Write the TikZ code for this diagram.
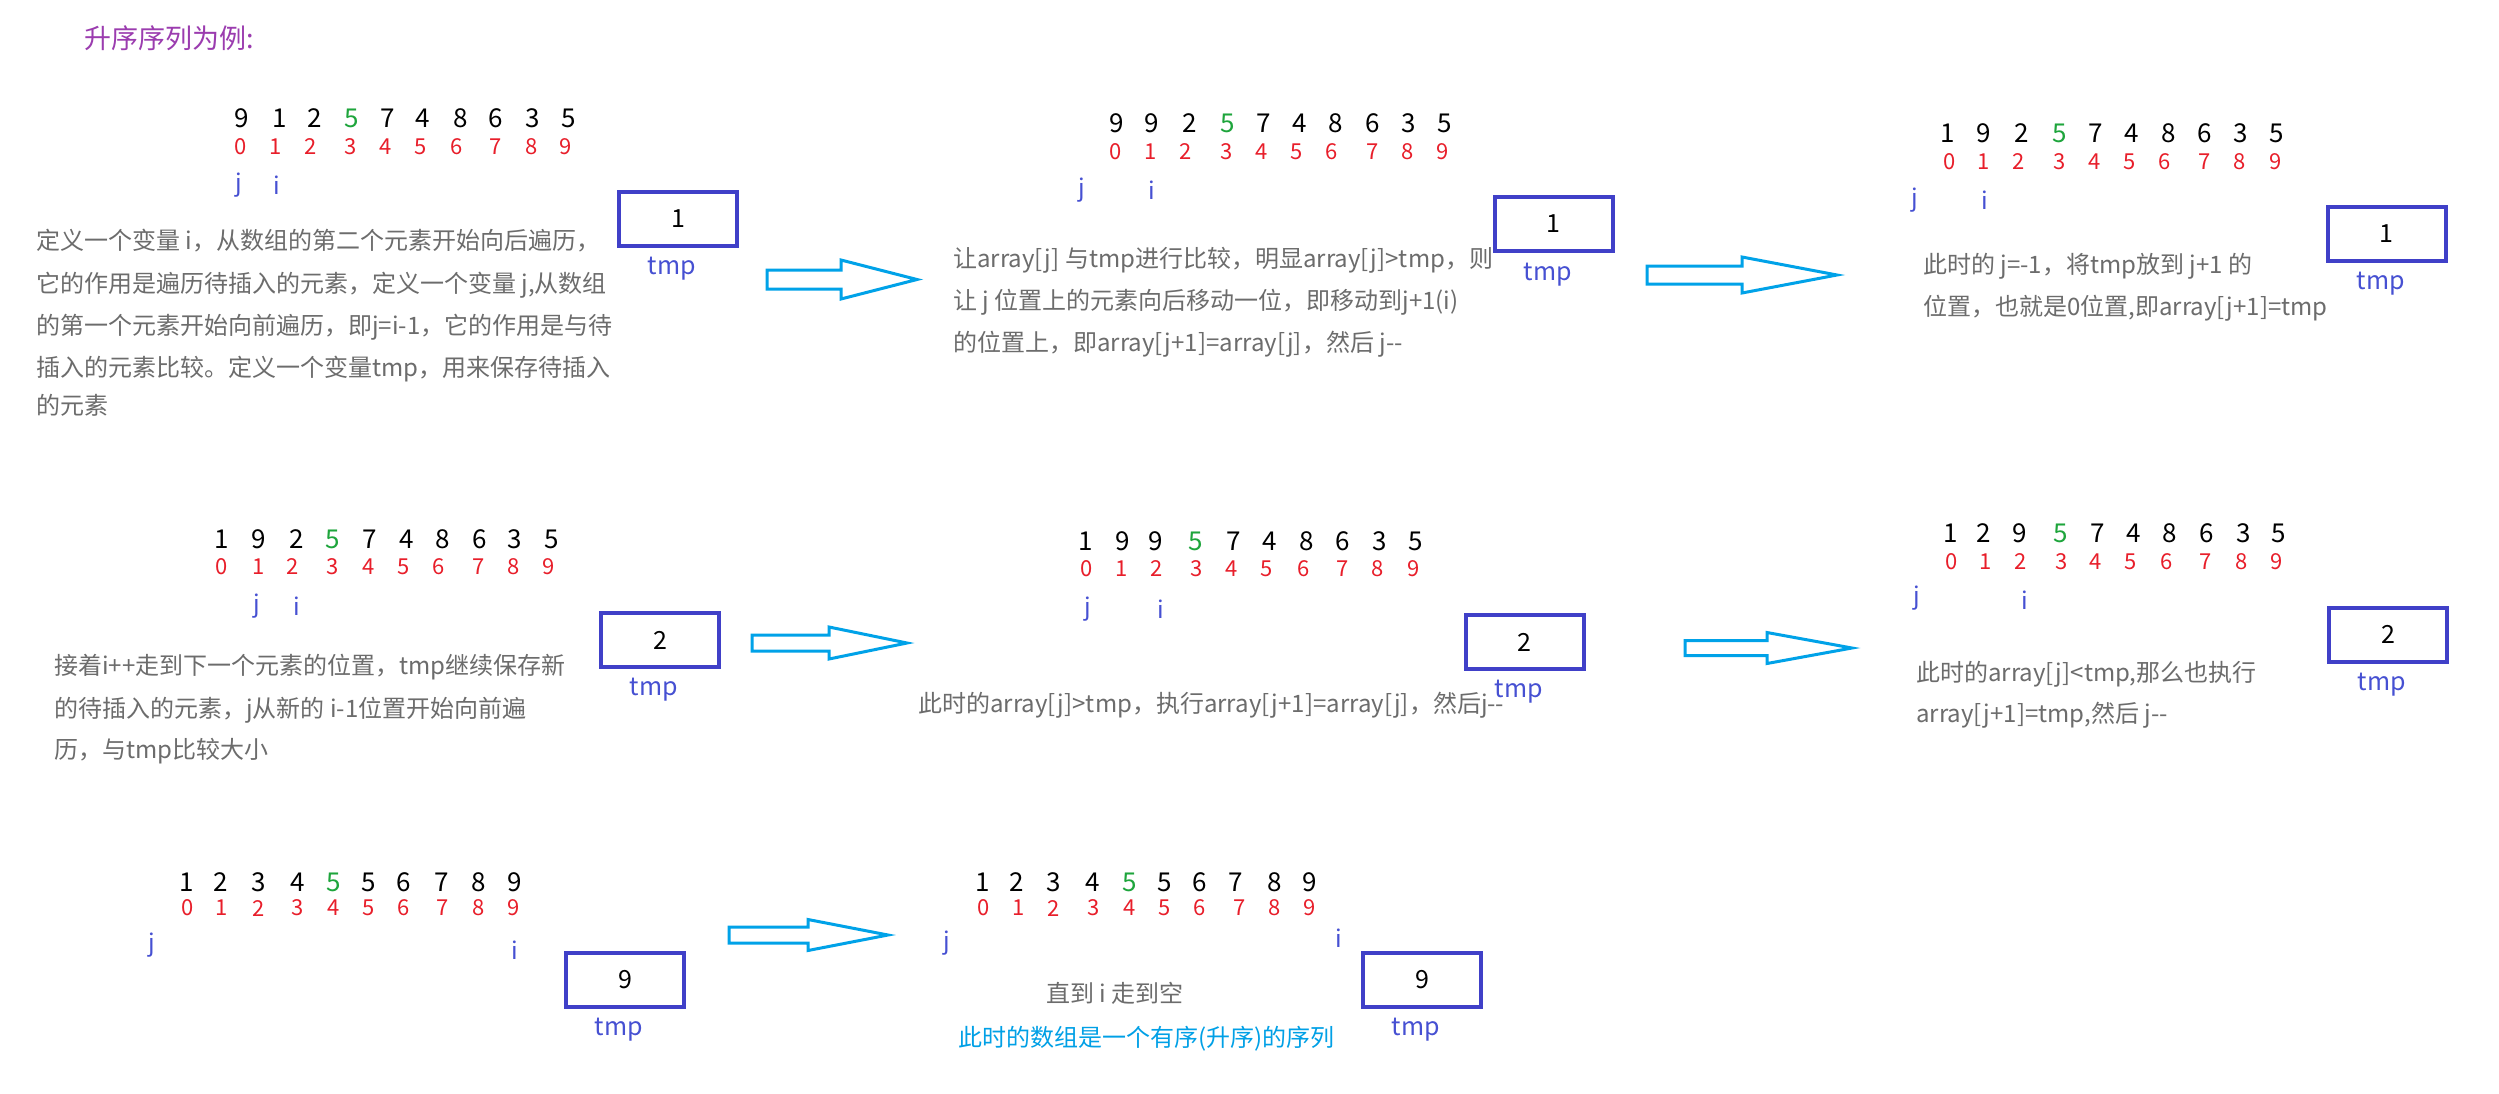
\documentclass[tikz,border=0pt]{standalone}
\usepackage{fontspec}
\newfontfamily\zh{Noto Sans CJK SC}
\definecolor{titlepurple}{RGB}{155,60,175}
\definecolor{txtgray}{RGB}{108,108,108}
\definecolor{idxred}{RGB}{232,30,42}
\definecolor{okgreen}{RGB}{30,165,60}
\definecolor{ptrblue}{RGB}{70,80,210}
\definecolor{boxblue}{RGB}{64,64,200}
\definecolor{arrowblue}{RGB}{0,162,232}
\definecolor{noteblue}{RGB}{0,160,230}
\newcommand\valrow[4]{%
  \foreach \d/\x [count=\k] in {#4}{%
    \ifnum\k=#3\relax
      \node[val,text=okgreen] (#1\k) at (\x,#2) {\d};
    \else
      \node[val] (#1\k) at (\x,#2) {\d};
    \fi}}
\newcommand\idxrow[3]{%
  \foreach \x [count=\k from 0] in {#3}{\node[idx] (#1\k) at (\x,#2) {\k};}}
\newcommand\blockarr[6]{%
  \draw[blockarrow] (#1,#4-#5) -- (#2,#4-#5) -- (#2,#4-#6) -- (#3,#4) -- (#2,#4+#6) -- (#2,#4+#5) -- (#1,#4+#5) -- cycle;}
\begin{document}
\begin{tikzpicture}[x=1pt,y=-1pt,
  every node/.style={inner sep=0pt},
  val/.style={font=\zh\fontsize{26}{30}\selectfont},
  idx/.style={font=\zh\fontsize{22}{26}\selectfont, text=idxred},
  ptr/.style={font=\zh\fontsize{24}{28}\selectfont, text=ptrblue},
  tmpbox/.style={draw=boxblue, line width=4pt, font=\zh\fontsize{25}{30}\selectfont, minimum width=118pt, minimum height=54pt},
  tmplab/.style={font=\zh\fontsize{25}{30}\selectfont, text=ptrblue},
  txt/.style={anchor=west, text=txtgray, font=\zh\fontsize{24}{28}\selectfont, text height=21pt, text depth=3pt},
  blockarrow/.style={draw=arrowblue, line width=3pt, line join=miter}]
\fill[white] (0,0) rectangle (2499,1093);
\useasboundingbox (0,0) rectangle (2499,1093);

% title
\node[anchor=west, text=titlepurple, font=\zh\fontsize{27}{30}\selectfont, text height=24pt, text depth=3pt] (title) at (84,38) {升序序列为例:};

% ---------- panel 1 ----------
\valrow{va}{118}{4}{9/242,1/280,2/315,5/352,7/388,4/423,8/461,6/496,3/533,5/569}
\idxrow{ia}{147}{241,276,311,351,386,421,457,496,532,566}
\node[ptr] (ja) at (239,185) {j};
\node[ptr] (pa) at (277,185) {i};
\node[tmpbox] (ba) at (678,219) {1};
\node[tmplab] (ta) at (672,269) {tmp};
\node[txt] (xa1) at (36,240) {定义一个变量 i，从数组的第二个元素开始向后遍历，};
\node[txt] (xa2) at (36,283) {它的作用是遍历待插入的元素，定义一个变量 j,从数组};
\node[txt] (xa3) at (36,325) {的第一个元素开始向前遍历，即j=i-1，它的作用是与待};
\node[txt] (xa4) at (36,367) {插入的元素比较。定义一个变量tmp，用来保存待插入};
\node[txt] (xa5) at (36,405) {的元素};

% ---------- panel 2 ----------
\valrow{vb}{123}{4}{9/1117,9/1152,2/1190,5/1228,7/1264,4/1300,8/1336,6/1373,3/1409,5/1445}
\idxrow{ib}{152}{1116,1151,1186,1227,1262,1297,1332,1373,1408,1443}
\node[ptr] (jb) at (1082,190) {j};
\node[ptr] (pb) at (1152,190) {i};
\node[tmpbox] (bb) at (1553.5,223.5) {1};
\node[tmplab] (tb) at (1548,275) {tmp};
\node[txt] (xb1) at (953,258) {让array[j] 与tmp进行比较，明显array[j]>tmp，则};
\node[txt] (xb2) at (953,300) {让 j 位置上的元素向后移动一位，即移动到j+1(i)};
\node[txt] (xb3) at (953,342) {的位置上，即array[j+1]=array[j]，然后 j-\kern0pt-};

% ---------- panel 3 ----------
\valrow{vc}{133}{4}{1/1948,9/1984,2/2022,5/2060,7/2096,4/2132,8/2169,6/2205,3/2241,5/2277}
\idxrow{ic}{162}{1950,1984,2019,2060,2095,2130,2165,2205,2240,2276}
\node[ptr] (jc) at (1915,200) {j};
\node[ptr] (pc) at (1985,200) {i};
\node[tmpbox] (bc) at (2386.5,234) {1};
\node[tmplab] (tc) at (2381,284) {tmp};
\node[txt] (xc1) at (1923,264) {此时的 j=-1，将tmp放到 j+1 的};
\node[txt] (xc2) at (1923,306) {位置，也就是0位置,即array[j+1]=tmp};

% ---------- panel 4 ----------
\valrow{vd}{539}{4}{1/222,9/259,2/297,5/333,7/370,4/407,8/443,6/480,3/515,5/552}
\idxrow{id}{567}{222,259,293,333,369,404,439,479,514,549}
\node[ptr] (jd) at (257,606) {j};
\node[ptr] (pd) at (297,606) {i};
\node[tmpbox] (bd) at (660,640) {2};
\node[tmplab] (td) at (654,690) {tmp};
\node[txt] (xd1) at (54,665) {接着i++走到下一个元素的位置，tmp继续保存新};
\node[txt] (xd2) at (54,708) {的待插入的元素，j从新的 i-1位置开始向前遍};
\node[txt] (xd3) at (54,749) {历，与tmp比较大小};

% ---------- panel 5 ----------
\valrow{ve}{541}{4}{1/1086,9/1123,9/1156,5/1196,7/1234,4/1270,8/1307,6/1343,3/1380,5/1416}
\idxrow{ie}{569}{1087,1122,1157,1197,1232,1267,1304,1343,1378,1414}
\node[ptr] (je) at (1088,609) {j};
\node[ptr] (pe) at (1161,609) {i};
\node[tmpbox] (be) at (1524.5,642) {2};
\node[tmplab] (te) at (1519,692) {tmp};
\node[txt] (xe1) at (918,703) {此时的array[j]>tmp，执行array[j+1]=array[j]，然后j-\kern0pt-};

% ---------- panel 6 ----------
\valrow{vf}{533}{4}{1/1951,2/1984,9/2020,5/2061,7/2098,4/2134,8/2170,6/2207,3/2244,5/2279}
\idxrow{if}{562}{1952,1986,2021,2062,2096,2131,2167,2206,2242,2277}
\node[ptr] (jf) at (1917,598) {j};
\node[ptr] (pf) at (2025,600) {i};
\node[tmpbox] (bf) at (2388,634.5) {2};
\node[tmplab] (tf) at (2382,685) {tmp};
\node[txt] (xf1) at (1916,672) {此时的array[j]<tmp,那么也执行};
\node[txt] (xf2) at (1916,713) {array[j+1]=tmp,然后 j-\kern0pt-};

% ---------- panel 7 ----------
\valrow{vg}{882}{5}{1/187,2/221,3/259,4/298,5/334,5/369,6/404,7/442,8/479,9/515}
\idxrow{ig}{908}{188,222,259,298,334,369,404,443,479,514}
\node[ptr] (jg) at (152,945) {j};
\node[ptr] (pg) at (515,950) {i};
\node[tmpbox] (bg) at (625,980) {9};
\node[tmplab] (tg) at (619,1030) {tmp};

% ---------- panel 8 ----------
\valrow{vh}{882}{5}{1/983,2/1017,3/1054,4/1093,5/1130,5/1165,6/1200,7/1236,8/1275,9/1310}
\idxrow{ih}{908}{984,1019,1054,1094,1130,1165,1200,1240,1275,1310}
\node[ptr] (jh) at (947,943) {j};
\node[ptr] (ph) at (1339,938) {i};
\node[tmpbox] (bh) at (1422,980) {9};
\node[tmplab] (th) at (1416,1030) {tmp};
\node[txt] (xh1) at (1046,993) {直到 i 走到空};
\node[txt, text=noteblue] (xh2) at (958,1037) {此时的数组是一个有序(升序)的序列};

% ---------- block arrows ----------
\blockarr{767}{841}{917}{279.5}{9.5}{19.5}
\blockarr{1647}{1742}{1837}{275}{9}{18}
\blockarr{752}{829}{907}{643}{8}{16}
\blockarr{1685}{1767}{1852}{648}{7.5}{15.5}
\blockarr{729}{808}{888}{935}{8}{15.5}
\end{tikzpicture}
\end{document}
